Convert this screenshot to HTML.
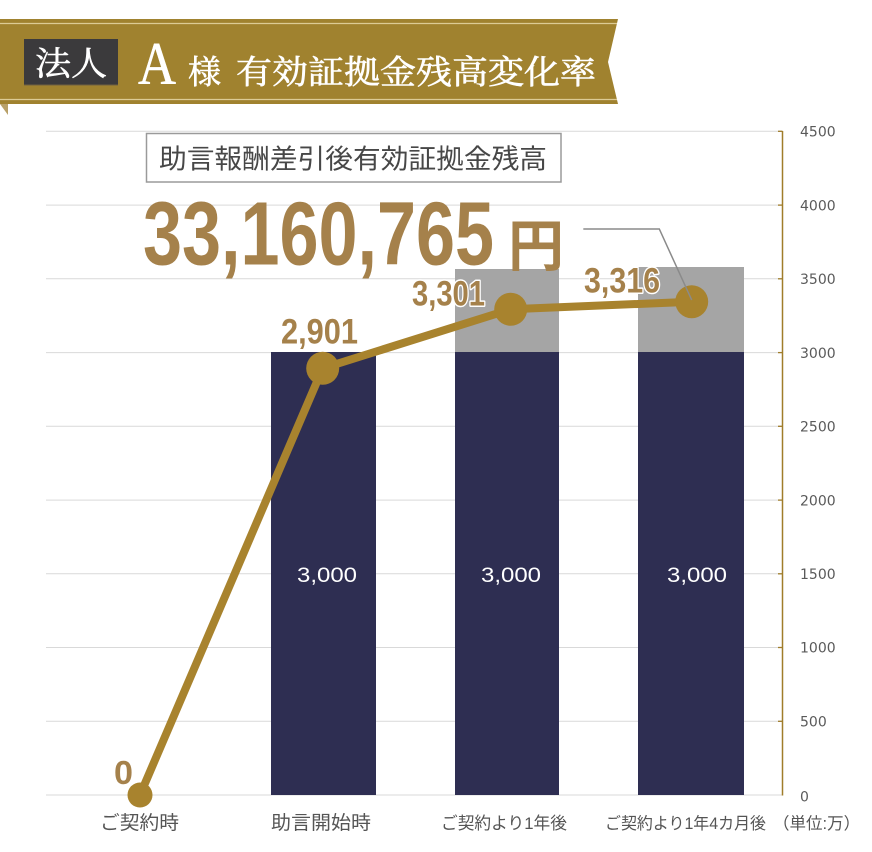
<!DOCTYPE html>
<html><head><meta charset="utf-8"><style>
html,body{margin:0;padding:0;background:#fff;}
svg{display:block;}
</style></head><body>
<svg width="872" height="852" viewBox="0 0 872 852" xmlns="http://www.w3.org/2000/svg">
<!-- banner -->
<polygon points="0,19 618,19 608,62 618,104 0,104" fill="#a0822f"/>
<line x1="0" y1="23.5" x2="617" y2="23.5" stroke="#dccb95" stroke-width="1.3"/>
<line x1="0" y1="99.5" x2="617" y2="99.5" stroke="#dccb95" stroke-width="1.3"/>
<polygon points="0,104 8,104 8,115" fill="#b8a068"/>
<rect x="24" y="39" width="94" height="46" fill="#3b3a3c"/>
<line x1="24" y1="85" x2="118" y2="85" stroke="#6f6040" stroke-width="1"/>
<g stroke="#fff" stroke-width="0.6" fill="#fff">
<text x="35" y="75" font-family="'Liberation Serif','Noto Serif CJK SC',serif" font-size="33" textLength="72" lengthAdjust="spacingAndGlyphs">法人</text>
<text x="188" y="83.5" font-family="'Liberation Serif','Noto Serif CJK SC',serif" font-size="33">様</text>
<text x="236" y="83.5" font-family="'Liberation Serif','Noto Serif CJK SC',serif" font-size="33" textLength="360" lengthAdjust="spacingAndGlyphs">有効証拠金残高変化率</text>
</g>
<text x="138" y="84" font-family="'Liberation Serif',serif" font-size="60" fill="#fff" stroke="#fff" stroke-width="0.5" textLength="38" lengthAdjust="spacingAndGlyphs">A</text>

<!-- gridlines -->
<g stroke="#d9d9d9" stroke-width="1">
<line x1="46" y1="131.3" x2="782" y2="131.3"/>
<line x1="46" y1="205.1" x2="782" y2="205.1"/>
<line x1="46" y1="278.8" x2="782" y2="278.8"/>
<line x1="46" y1="352.6" x2="782" y2="352.6"/>
<line x1="46" y1="426.3" x2="782" y2="426.3"/>
<line x1="46" y1="500.1" x2="782" y2="500.1"/>
<line x1="46" y1="573.8" x2="782" y2="573.8"/>
<line x1="46" y1="647.5" x2="782" y2="647.5"/>
<line x1="46" y1="721.3" x2="782" y2="721.3"/>
<line x1="46" y1="795" x2="782" y2="795"/>
</g>

<!-- bars -->
<rect x="271" y="352" width="105" height="443" fill="#2e2e52"/>
<rect x="455" y="269" width="104" height="83" fill="#a5a5a5"/>
<rect x="455" y="352" width="104" height="443" fill="#2e2e52"/>
<rect x="638" y="267" width="106" height="85" fill="#a5a5a5"/>
<rect x="638" y="352" width="106" height="443" fill="#2e2e52"/>

<g font-family="'Liberation Sans',sans-serif" font-size="21" fill="#fff">
<text x="297" y="582" textLength="60" lengthAdjust="spacingAndGlyphs">3,000</text>
<text x="481" y="582" textLength="60" lengthAdjust="spacingAndGlyphs">3,000</text>
<text x="667" y="582" textLength="60" lengthAdjust="spacingAndGlyphs">3,000</text>
</g>

<!-- y axis -->
<line x1="782.5" y1="131" x2="782.5" y2="795.5" stroke="#a07d2a" stroke-width="1.5"/>
<g stroke="#a07d2a" stroke-width="1.3">
<line x1="778" y1="131.3" x2="782.5" y2="131.3"/>
<line x1="778" y1="205.1" x2="782.5" y2="205.1"/>
<line x1="778" y1="278.8" x2="782.5" y2="278.8"/>
<line x1="778" y1="352.6" x2="782.5" y2="352.6"/>
<line x1="778" y1="426.3" x2="782.5" y2="426.3"/>
<line x1="778" y1="500.1" x2="782.5" y2="500.1"/>
<line x1="778" y1="573.8" x2="782.5" y2="573.8"/>
<line x1="778" y1="647.5" x2="782.5" y2="647.5"/>
<line x1="778" y1="721.3" x2="782.5" y2="721.3"/>
</g>
<g font-family="'DejaVu Sans',sans-serif" font-size="14" fill="#5a5a5a">
<text x="800" y="136.5">4500</text>
<text x="800" y="210.3">4000</text>
<text x="800" y="284">3500</text>
<text x="800" y="357.8">3000</text>
<text x="800" y="431.5">2500</text>
<text x="800" y="505.3">2000</text>
<text x="800" y="579">1500</text>
<text x="800" y="652.7">1000</text>
<text x="800" y="726.5">500</text>
<text x="800" y="801.5">0</text>
</g>

<!-- line series -->
<polyline points="140,795 322.7,368.3 510.7,309.3 691.7,301.7" fill="none" stroke="#a8832e" stroke-width="8" stroke-linejoin="round"/>
<circle cx="140" cy="795" r="12.5" fill="#a8832e"/>
<circle cx="322.7" cy="368.3" r="16.5" fill="#a8832e"/>
<circle cx="510.7" cy="309.3" r="16.5" fill="#a8832e"/>
<circle cx="691.7" cy="301.7" r="16.5" fill="#a8832e"/>

<!-- leader line -->
<polyline points="583.3,229 659.3,229 691.7,300" fill="none" stroke="#8a8a8a" stroke-width="1.5"/>

<!-- value labels -->
<g font-family="'Liberation Sans',sans-serif" font-weight="bold" font-size="35" fill="#a5814b" stroke="#fff" stroke-width="3" paint-order="stroke" stroke-linejoin="round">
<text x="281" y="343.5" textLength="77" lengthAdjust="spacingAndGlyphs">2,901</text>
<text x="412" y="305.5" textLength="73" lengthAdjust="spacingAndGlyphs">3,301</text>
<text x="584" y="292.7" textLength="76" lengthAdjust="spacingAndGlyphs">3,316</text>
<text x="114" y="784" font-size="33" textLength="19" lengthAdjust="spacingAndGlyphs">0</text>
</g>

<!-- title box -->
<rect x="146.5" y="133.5" width="414.5" height="48.5" fill="#fff" stroke="#9a9a9a" stroke-width="1.5"/>
<text x="159" y="168.5" font-family="'Liberation Sans','Noto Sans CJK JP',sans-serif" font-size="27" fill="#474747" textLength="388" lengthAdjust="spacingAndGlyphs">助言報酬差引後有効証拠金残高</text>
<text x="143" y="264.7" font-family="'Liberation Sans',sans-serif" font-weight="bold" font-size="90" fill="#a5814b" textLength="351" lengthAdjust="spacingAndGlyphs">33,160,765</text>
<text x="508" y="266" font-family="'Liberation Sans','Noto Sans CJK JP',sans-serif" font-weight="bold" font-size="56" fill="#a5814b">円</text>

<!-- x labels -->
<g font-family="'Liberation Sans','Noto Sans CJK JP',sans-serif" fill="#555">
<text x="100" y="829" font-size="19" textLength="79" lengthAdjust="spacingAndGlyphs">ご契約時</text>
<text x="271" y="829" font-size="19" textLength="100" lengthAdjust="spacingAndGlyphs">助言開始時</text>
<text x="441" y="829" font-size="17" textLength="126" lengthAdjust="spacingAndGlyphs">ご契約より1年後</text>
<text x="605" y="829" font-size="16.5" textLength="161" lengthAdjust="spacingAndGlyphs">ご契約より1年4カ月後</text>
<text x="773" y="829" font-size="16.5">（単位:万）</text>
</g>
</svg>
</body></html>
